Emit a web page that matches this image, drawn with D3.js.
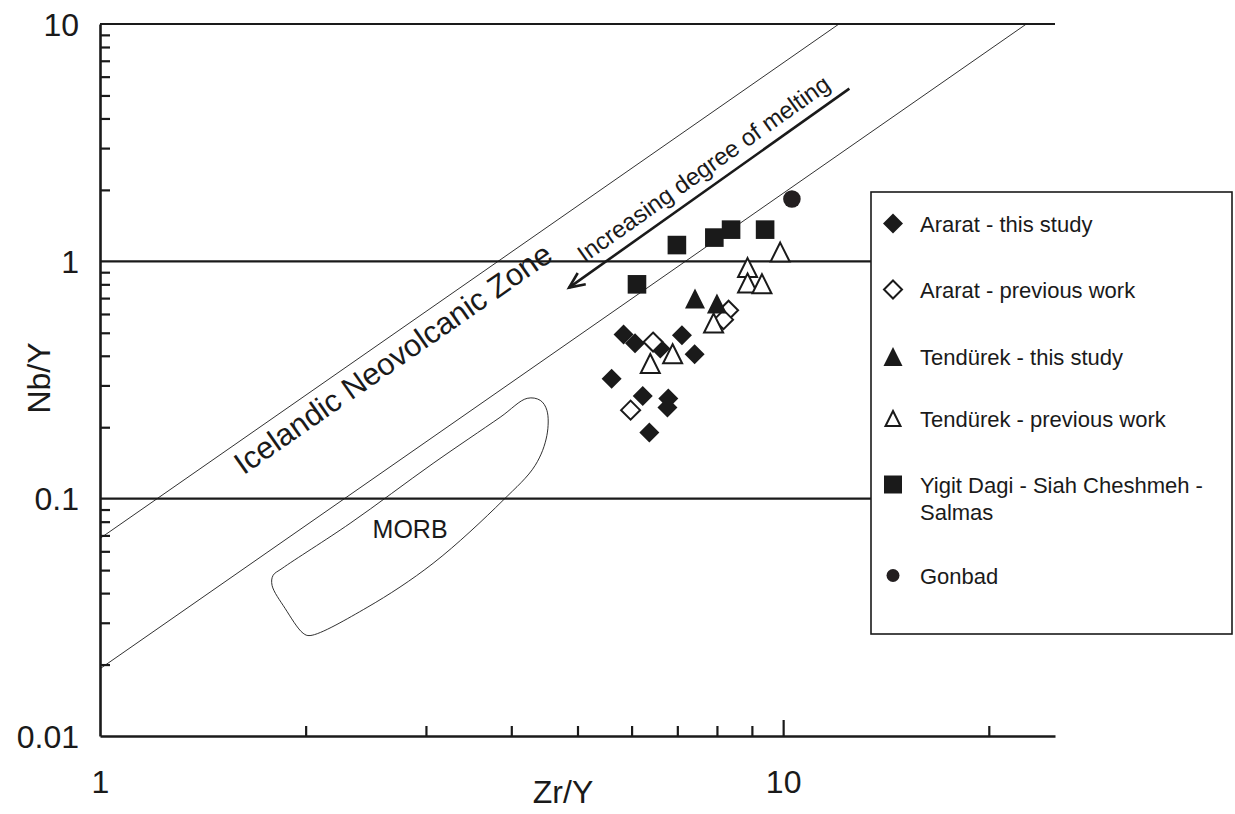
<!DOCTYPE html>
<html>
<head>
<meta charset="utf-8">
<script src="https://cdn.jsdelivr.net/npm/d3@7"></script>
<style>
  body { margin: 0; background: #fff; }
  svg { display: block; }
  text { font-family: "Liberation Sans", Arial, sans-serif; fill: #1a1a1a; }
</style>
</head>
<body>
<svg id="chart" width="1235" height="814"></svg>
<script>
// ---------------- data (Zr/Y, Nb/Y) ----------------
const araratThisStudy = [[5.84,0.492],[6.07,0.452],[6.61,0.429],[7.11,0.488],[7.42,0.406],
                         [5.61,0.320],[6.23,0.271],[6.79,0.264],[6.77,0.242],[6.37,0.190]];
const araratPrevious  = [[8.32,0.622],[8.18,0.568],[6.45,0.457],[5.98,0.236]];
const tendurekThisStudy = [[7.43,0.698],[8.00,0.665]];
const tendurekPrevious  = [[9.90,1.094],[8.87,0.941],[8.87,0.810],[9.31,0.805],
                           [7.91,0.550],[6.89,0.408],[6.39,0.371]];
const yigitDagi = [[6.11,0.800],[6.99,1.171],[7.93,1.259],[8.39,1.360],[9.41,1.360]];
const gonbad = [[10.3,1.83]];

// Icelandic array boundaries and MORB field
const upperBoundary = [[1,0.068],[12.07,10]];
const lowerBoundary = [[1,0.0192],[22.7,10]];
const meltingArrow  = [[12.5,5.34],[4.86,0.775]];
const morbField = [[4.22,0.2647],[4.41,0.2596],[4.51,0.2356],[4.51,0.1848],[4.335,0.1381],
                   [3.89,0.0984],[3.073,0.0534],[2.46,0.0348],[2.03,0.0265],[1.983,0.0271],
                   [1.866,0.0345],[1.786,0.0431],[1.792,0.0475],[1.847,0.0508],[2.323,0.0787],
                   [3.073,0.1408],[3.852,0.2202]];

// axis ticks / labels
const yLabelTicks = [10, 1, 0.1, 0.01];
const yLabelText  = ["10", "1", "0.1", "0.01"];
const yGridValues = [10, 1, 0.1];
const yMinorTicks = [2,3,4,5,6,7,8,9].flatMap(m => [m*0.01, m*0.1, m]);
const xLabelTicks = [1, 10];
const xLabelText  = ["1", "10"];
const xMinorTicks = [2,3,4,5,6,7,8,9,20];
const xMajorTicks = [10];

const legendLabels = [
  ["Ararat - this study"],
  ["Ararat - previous work"],
  ["Tendürek - this study"],
  ["Tendürek - previous work"],
  ["Yigit Dagi - Siah Cheshmeh -", "Salmas"],
  ["Gonbad"]
];

// ---------------- drawing ----------------
const ink = "#1a1a1a";
const svg = d3.select("#chart");
const x = d3.scaleLog().domain([1, 25]).range([100, 1055]);
const y = d3.scaleLog().domain([0.01, 10]).range([736, 24]);

// symbol paths centred on their bounding box
const shapes = {
  diamond: s => `M0,${-s}L${s},0L0,${s}L${-s},0Z`,
  triangle: s => `M0,${-s}L${s*1.0},${s}L${-s*1.0},${s}Z`,
  square: s => `M${-s},${-s}H${s}V${s}H${-s}Z`,
  circle: s => `M${-s},0A${s},${s} 0 1,0 ${s},0A${s},${s} 0 1,0 ${-s},0Z`
};

const series = [
  {data: araratThisStudy,   shape: "diamond",  size: 10,  fill: ink,    stroke: "none", lsize: 10},
  {data: araratPrevious,    shape: "diamond",  size: 9.5, fill: "#fff", stroke: ink,    lsize: 9},
  {data: tendurekThisStudy, shape: "triangle", size: 10,  fill: ink,    stroke: "none", lsize: 9.5},
  {data: tendurekPrevious,  shape: "triangle", size: 9.5, fill: "#fff", stroke: ink,    lsize: 7.5},
  {data: yigitDagi,         shape: "square",   size: 9.3, fill: ink,    stroke: "none", lsize: 9},
  {data: gonbad,            shape: "circle",   size: 8.8, fill: "#231f20", stroke: "none", lsize: 6.5}
];

// horizontal decade lines
svg.append("g").selectAll("line").data(yGridValues).join("line")
  .attr("x1", x(1)).attr("x2", x(25))
  .attr("y1", d => y(d)).attr("y2", d => y(d))
  .attr("stroke", ink).attr("stroke-width", 2.2);

// boundaries of the Icelandic array
const line = d3.line().x(d => x(d[0])).y(d => y(d[1]));
[upperBoundary, lowerBoundary].forEach(b => {
  svg.append("path").attr("d", line(b)).attr("fill", "none")
    .attr("stroke", ink).attr("stroke-width", 0.9);
});

// MORB field
svg.append("path")
  .attr("d", d3.line().x(d => x(d[0])).y(d => y(d[1])).curve(d3.curveCatmullRomClosed.alpha(0.5))(morbField))
  .attr("fill", "none").attr("stroke", ink).attr("stroke-width", 0.9);

svg.append("text").attr("x", x(2.844)).attr("y", y(0.068))
  .attr("text-anchor", "middle").attr("font-size", 25).text("MORB");

// zone label
const zAng = Math.atan2(y(upperBoundary[1][1]) - y(upperBoundary[0][1]),
                        x(upperBoundary[1][0]) - x(upperBoundary[0][0])) * 180 / Math.PI;
svg.append("text")
  .attr("transform", `translate(${x(2.74)},${y(0.3576)}) rotate(${zAng})`)
  .attr("text-anchor", "middle").attr("font-size", 31).text("Icelandic Neovolcanic Zone");

// arrow
const a0 = [x(meltingArrow[0][0]), y(meltingArrow[0][1])];
const a1 = [x(meltingArrow[1][0]), y(meltingArrow[1][1])];
svg.append("line").attr("x1", a0[0]).attr("y1", a0[1]).attr("x2", a1[0]).attr("y2", a1[1])
  .attr("stroke", ink).attr("stroke-width", 2.6);
const th = Math.atan2(a0[1] - a1[1], a0[0] - a1[0]);
const hl = 17, ha = 0.42;
svg.append("path")
  .attr("d", `M${a1[0] + hl*Math.cos(th+ha)},${a1[1] + hl*Math.sin(th+ha)}L${a1[0]},${a1[1]}L${a1[0] + hl*Math.cos(th-ha)},${a1[1] + hl*Math.sin(th-ha)}`)
  .attr("fill", "none").attr("stroke", ink).attr("stroke-width", 2.6);
const aAng = Math.atan2(a0[1] - a1[1], a0[0] - a1[0]) * 180 / Math.PI;
svg.append("text")
  .attr("transform", `translate(${x(7.77)},${y(2.30)}) rotate(${aAng})`)
  .attr("text-anchor", "middle").attr("font-size", 24).text("Increasing degree of melting");

// axes
const yMinor = d3.axisLeft(y).tickValues(yMinorTicks).tickSize(-10).tickSizeOuter(0).tickFormat("");
const gy = svg.append("g").attr("transform", `translate(${x(1)},0)`).call(yMinor);
const xMinor = d3.axisBottom(x).tickValues(xMinorTicks).tickSize(-10).tickSizeOuter(0).tickFormat("");
const gx = svg.append("g").attr("transform", `translate(0,${y(0.01)})`).call(xMinor);
const xMajor = d3.axisBottom(x).tickValues(xMajorTicks).tickSize(-16).tickSizeOuter(0).tickFormat("");
const gx2 = svg.append("g").attr("transform", `translate(0,${y(0.01)})`).call(xMajor);
gx2.select(".domain").remove();
[gy, gx, gx2].forEach(g => {
  g.select(".domain").attr("stroke", ink).attr("stroke-width", 2.6);
  g.selectAll(".tick line").attr("stroke", ink).attr("stroke-width", 2.2);
});

// tick labels
const yLab = d3.axisLeft(y).tickValues(yLabelTicks).tickSize(0).tickPadding(21)
  .tickFormat((d, i) => yLabelText[i]);
const gyl = svg.append("g").attr("transform", `translate(${x(1)},0)`).call(yLab);
gyl.select(".domain").remove();
gyl.selectAll("text").attr("font-size", 32).attr("font-family", null).attr("fill", ink).attr("dy", "0.35em");

const xLab = d3.axisBottom(x).tickValues(xLabelTicks).tickSize(0).tickPadding(34)
  .tickFormat((d, i) => xLabelText[i]);
const gxl = svg.append("g").attr("transform", `translate(0,${y(0.01)})`).call(xLab);
gxl.select(".domain").remove();
gxl.selectAll("text").attr("font-size", 32).attr("font-family", null).attr("fill", ink).attr("dy", "0.71em");

// axis titles
svg.append("text").attr("x", 563).attr("y", 803).attr("text-anchor", "middle")
  .attr("font-size", 32).text("Zr/Y");
svg.append("text").attr("transform", "translate(50,378) rotate(-90)")
  .attr("text-anchor", "middle").attr("font-size", 32).text("Nb/Y");

// data points
series.forEach(s => {
  svg.append("g").selectAll("path").data(s.data).join("path")
    .attr("transform", d => `translate(${x(d[0])},${y(d[1])})`)
    .attr("d", shapes[s.shape](s.size))
    .attr("fill", s.fill).attr("stroke", s.stroke).attr("stroke-width", 2);
});

// legend
const lg = svg.append("g");
lg.append("rect").attr("x", 871).attr("y", 192).attr("width", 361).attr("height", 442)
  .attr("fill", "#fff").attr("stroke", ink).attr("stroke-width", 1.6);
const baselines = [232, 298, 365, 427, 493, 584];
series.forEach((s, i) => {
  const b = baselines[i];
  lg.append("path").attr("transform", `translate(893,${b - 8.5})`)
    .attr("d", shapes[s.shape](s.lsize))
    .attr("fill", s.fill).attr("stroke", s.stroke).attr("stroke-width", 2);
  const t = lg.append("text").attr("x", 920).attr("y", b).attr("font-size", 22);
  legendLabels[i].forEach((l, j) => {
    t.append("tspan").attr("x", 920).attr("dy", j === 0 ? 0 : 27).text(l);
  });
});
</script>
</body>
</html>
